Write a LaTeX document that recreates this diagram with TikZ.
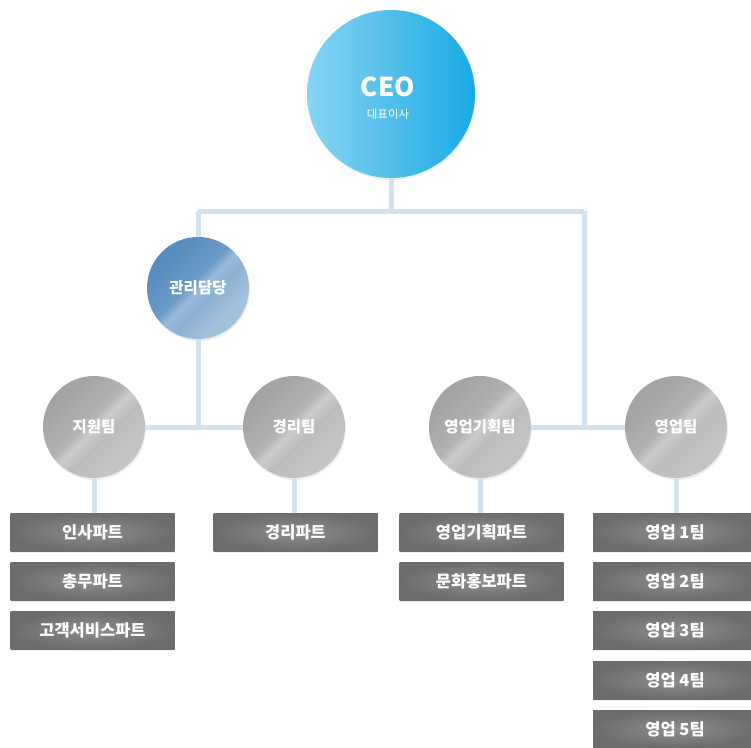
\documentclass[tikz,border=0pt]{standalone}
\usepackage{fontspec}
\setmainfont{Noto Sans CJK KR}
\usetikzlibrary{shadows}
\definecolor{conn}{HTML}{D2E2EF}
\definecolor{gA}{HTML}{A4A4A4}
\definecolor{gB}{HTML}{B2B2B2}
\definecolor{gC}{HTML}{CCCCCC}
\definecolor{gD}{HTML}{BCBCBC}
\definecolor{gE}{HTML}{C4C4C4}
\definecolor{bA}{HTML}{5A8DBF}
\definecolor{bB}{HTML}{6B9AC6}
\definecolor{bC}{HTML}{98BCDB}
\definecolor{bD}{HTML}{8DB2D3}
\definecolor{bE}{HTML}{A2C1DB}
\definecolor{ceoL}{HTML}{88D4F2}
\definecolor{ceoR}{HTML}{19A9E6}
\definecolor{boxin}{HTML}{8E8E8E}
\definecolor{boxout}{HTML}{6C6C6C}
\pgfdeclarehorizontalshading{graymetal}{100bp}{color(0bp)=(gA); color(30bp)=(gA); color(46bp)=(gB); color(51bp)=(gC); color(57bp)=(gD); color(70bp)=(gE); color(100bp)=(gE)}
\pgfdeclarehorizontalshading{bluemetal}{100bp}{color(0bp)=(bA); color(30bp)=(bA); color(46bp)=(bB); color(51bp)=(bC); color(57bp)=(bD); color(70bp)=(bE); color(100bp)=(bE)}
\tikzset{
  conline/.style={draw=conn, line width=5pt},
  circ/.style={circle, minimum size=102pt, inner sep=0pt, text=white,
    font=\bfseries\fontsize{15.5}{17}\selectfont,
    drop shadow={opacity=0.12, shadow xshift=1pt, shadow yshift=-2pt}},
  gcirc/.style={circ, shading=graymetal, shading angle=-45},
  bcirc/.style={circ, shading=bluemetal, shading angle=-45},
  partbox/.style={rectangle, minimum width=164pt, minimum height=38pt, inner sep=0pt,
    inner color=boxin, outer color=boxout, text=white,
    font=\bfseries\fontsize{16.5}{18}\selectfont,
    drop shadow={opacity=0.12, shadow xshift=0pt, shadow yshift=-1.5pt}},
}
\begin{document}
\begin{tikzpicture}[x=1pt,y=-1pt]
\fill[white] (0,0) rectangle (751,747);
\useasboundingbox (0,0) rectangle (751,747);
% circles
\node[circle, minimum size=168pt, inner sep=0pt, left color=ceoL, right color=ceoR,
  drop shadow={opacity=0.12, shadow xshift=1pt, shadow yshift=-2pt}] (ceo) at (391,94) {};
\node[text=white, font=\bfseries\fontsize{26}{30}\selectfont] (ceot) at (388,87) {CEO};
\node[text=white, font=\fontsize{11.5}{13}\selectfont] (ceos) at (388,114) {대표이사};
\node[bcirc] (gm) at (198,288) {관리담당};
\node[gcirc] (t1) at (94,427) {지원팀};
\node[gcirc] (t2) at (294,427) {경리팀};
\node[gcirc] (t3) at (480,427) {영업기획팀};
\node[gcirc] (t4) at (676,427) {영업팀};
% boxes
\node[partbox] (p1) at (92.5,532) {인사파트};
\node[partbox] (p2) at (92.5,581) {총무파트};
\node[partbox] (p3) at (92.5,630) {고객서비스파트};
\node[partbox] (q1) at (295.5,532) {경리파트};
\node[partbox] (r1) at (481.5,532) {영업기획파트};
\node[partbox] (r2) at (481.5,581) {문화홍보파트};
\node[partbox] (s1) at (675,532) {영업 1팀};
\node[partbox] (s2) at (675,581) {영업 2팀};
\node[partbox] (s3) at (675,630) {영업 3팀};
\node[partbox] (s4) at (675,680) {영업 4팀};
\node[partbox] (s5) at (675,729) {영업 5팀};
% connectors
\coordinate (topbar) at (391,211);
\coordinate (rdrop) at (584,211);
\coordinate (ljoin) at (198,428);
\coordinate (rjoin) at (584,428);
\draw[conline] (ceo.south) -- (topbar);
\draw[conline] (gm.north |- topbar) -- (rdrop);
\draw[conline] (gm.north |- topbar) -- (gm.north);
\draw[conline] (rdrop) -- (rjoin);
\draw[conline] (gm.south) -- (ljoin);
\draw[conline] (t1.east) -- (t2.west);
\draw[conline] (t3.east) -- (t4.west);
\draw[conline] (t1.south) -- (t1.south |- p1.north);
\draw[conline] (t2.south) -- (t2.south |- q1.north);
\draw[conline] (t3.south) -- (t3.south |- r1.north);
\draw[conline] (t4.south) -- (t4.south |- s1.north);
\end{tikzpicture}
\end{document}
